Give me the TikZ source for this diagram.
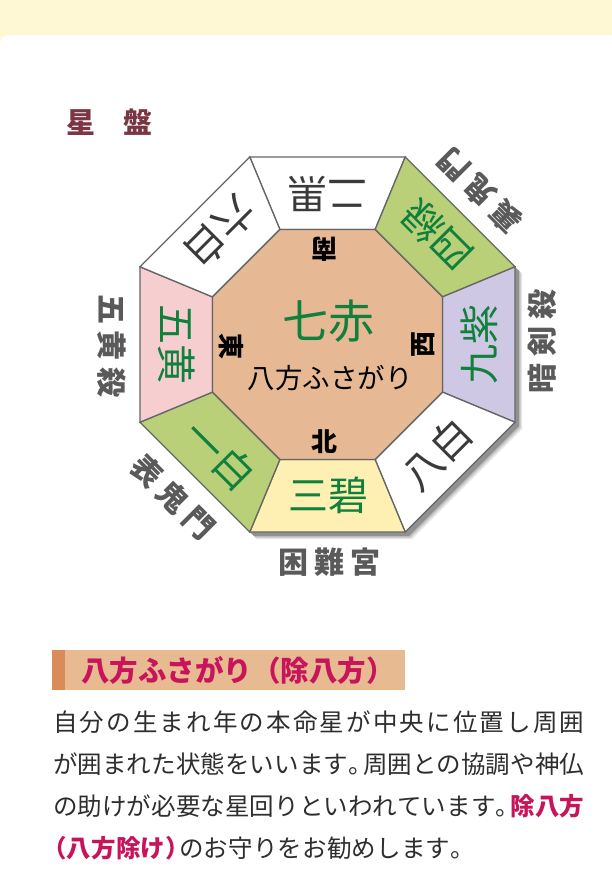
\documentclass[tikz,border=0pt]{standalone}
\usepackage{fontspec}
\usepackage{graphicx}
\newfontfamily\jp{Noto Sans CJK JP}
\definecolor{topyellow}{HTML}{FFF8D4}
\definecolor{edgegray}{HTML}{666666}
\definecolor{centertan}{HTML}{E6B994}
\definecolor{seggreen}{HTML}{B9D078}
\definecolor{seglav}{HTML}{CEC8E4}
\definecolor{segpink}{HTML}{F7CED0}
\definecolor{segyellow}{HTML}{FDF0B2}
\definecolor{stargreen}{HTML}{10803C}
\definecolor{stargray}{HTML}{3A3A3A}
\definecolor{outgray}{HTML}{5A5A5A}
\definecolor{titlemaroon}{HTML}{7B3644}
\definecolor{headbar}{HTML}{E8BA92}
\definecolor{headstripe}{HTML}{D98C5A}
\definecolor{crimson}{HTML}{C8145A}
\definecolor{bodytext}{HTML}{2E2E2E}
\ExplSyntaxOn
\NewDocumentCommand\spr{m}{\tl_map_inline:nn{#1}{{##1}\hfil}\unskip}
\ExplSyntaxOff
\newcommand\spreadto[2]{\makebox[#1][s]{\spr{#2}}}
\newcommand\hlt{\color{crimson}\bfseries}
\newcommand\opar{\makebox[0.55em][r]{（}}
\newcommand\cpar{\makebox[0.55em][l]{）}}
\newcommand\pdot{\makebox[0.6em][l]{。}}
\begin{document}
\begin{tikzpicture}[x=1pt,y=-1pt,
  edge/.style={draw=edgegray,line width=1.3pt,line join=miter},
  seglbl/.style={font=\jp\fontsize{40}{40}\selectfont,inner sep=0,text=stargreen},
  dirlbl/.style={font=\jp\bfseries\fontsize{26}{26}\selectfont,inner sep=0,text=black},
  outlbl/.style={font=\jp\bfseries\fontsize{30}{30}\selectfont,inner sep=0,text=outgray},
  bodyline/.style={anchor=west,inner sep=0,font=\jp\fontsize{24.5}{24.5}\selectfont,text=bodytext}]
\useasboundingbox (0,0) rectangle (612,869);
\clip (0,0) rectangle (612,869);
\fill[topyellow] (0,0) rectangle (612,869);
\fill[white,rounded corners=9pt] (0,35) rectangle (640,900);
% vertices
\coordinate (O1) at (249.8,157);   \coordinate (O2) at (405.2,157);
\coordinate (O3) at (515,266.8);   \coordinate (O4) at (515,422.2);
\coordinate (O5) at (405.2,532);   \coordinate (O6) at (249.8,532);
\coordinate (O7) at (140,422.2);   \coordinate (O8) at (140,266.8);
\coordinate (I1) at (279.9,229.5); \coordinate (I2) at (375.1,229.5);
\coordinate (I3) at (442.5,296.9); \coordinate (I4) at (442.5,392.1);
\coordinate (I5) at (375.1,459.5); \coordinate (I6) at (279.9,459.5);
\coordinate (I7) at (212.5,392.1); \coordinate (I8) at (212.5,296.9);
% shadow
\foreach \s/\o in {7/0.10,5.5/0.15,4/0.25}{
  \fill[black,opacity=\o] ([xshift=\s pt,yshift=-\s pt]O1) -- ([xshift=\s pt,yshift=-\s pt]O2) -- ([xshift=\s pt,yshift=-\s pt]O3) -- ([xshift=\s pt,yshift=-\s pt]O4) -- ([xshift=\s pt,yshift=-\s pt]O5) -- ([xshift=\s pt,yshift=-\s pt]O6) -- ([xshift=\s pt,yshift=-\s pt]O7) -- ([xshift=\s pt,yshift=-\s pt]O8) -- cycle;
}
% segments
\foreach \a/\b/\c in {1/2/white,2/3/seggreen,3/4/seglav,4/5/white,5/6/segyellow,6/7/seggreen,7/8/segpink,8/1/white}{
  \filldraw[edge,fill=\c] (O\a) -- (O\b) -- (I\b) -- (I\a) -- cycle;
}
\filldraw[edge,fill=centertan] (I1) -- (I2) -- (I3) -- (I4) -- (I5) -- (I6) -- (I7) -- (I8) -- cycle;
% segment labels
\node[seglbl,text=stargray,rotate=180] (s2) at (327.5,193.5) {二黒};
\node[seglbl,rotate=135] (s4) at (437.1,234.9) {四緑};
\node[seglbl,rotate=90] (s9) at (479.5,344.5) {九紫};
\node[seglbl,text=stargray,rotate=45] (s8) at (437.1,454.1) {八白};
\node[seglbl] (s3) at (328.5,495.5) {三碧};
\node[seglbl,rotate=-45] (s1) at (219.9,455.1) {一白};
\node[seglbl,rotate=-90] (s5) at (176.5,344.5) {五黄};
\node[seglbl,text=stargray,rotate=-135] (s6) at (219.9,231.9) {六白};
% center
\node[font=\jp\fontsize{46}{46}\selectfont,inner sep=0,text=stargreen] (s7) at (328,321) {七赤};
\node[font=\jp\fontsize{27.5}{27.5}\selectfont,inner sep=0,text=black] (hp) at (330,378) {八方ふさがり};
\node[dirlbl,rotate=180] (dS) at (324,249) {南};
\node[dirlbl] (dN) at (324,442) {北};
\node[dirlbl,rotate=-90] (dE) at (231,346) {東};
\node[dirlbl,rotate=90] (dW) at (423,344) {西};
% outer labels
\node[outlbl] (k1) at (329,562) {\spreadto{102pt}{困難宮}};
\node[outlbl,rotate=90] (k2) at (542,341) {\spreadto{104pt}{暗剣殺}};
\node[outlbl,rotate=-90] (k3) at (112,346) {\spreadto{104pt}{五黄殺}};
\node[outlbl,rotate=135] (k4) at (480,191) {\spreadto{104pt}{裏鬼門}};
\node[outlbl,rotate=-45] (k5) at (173,497) {\spreadto{104pt}{表鬼門}};
% title
\node[font=\jp\bfseries\fontsize{29}{29}\selectfont,text=titlemaroon,inner sep=0,anchor=west] (title) at (66,122) {\spreadto{86pt}{星盤}};
% heading
\fill[headbar] (52,650) rectangle (405,690);
\fill[headstripe] (52,650) rectangle (65,690);
\node[font=\jp\bfseries\fontsize{28.5}{28.5}\selectfont,text=crimson,inner sep=0,anchor=west] (head) at (81,670) {八方ふさがり（除八方）};
% body
\node[bodyline] (b1) at (53,722) {\spreadto{531pt}{自分の生まれ年の本命星が中央に位置し周囲}};
\node[bodyline] (b2) at (53,764) {\spreadto{531pt}{が囲まれた状態をいいます\pdot 周囲との協調や神仏}};
\node[bodyline] (b3) at (53,806) {\spreadto{531pt}{の助けが必要な星回りといわれています\pdot{\hlt\spr{除八方}}}};
\node[bodyline] (b4) at (53,848) {\spreadto{412pt}{{\hlt\spr{\opar 八方除け\cpar}}のお守りをお勧めします\pdot}};
\end{tikzpicture}
\end{document}
